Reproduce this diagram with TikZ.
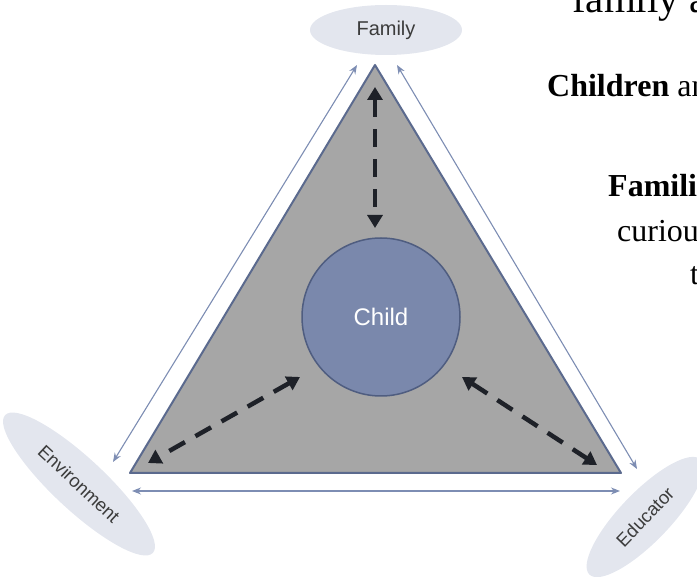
\documentclass[tikz,border=0pt]{standalone}
\usepackage{fontspec}
\setmainfont{Liberation Serif}
\newfontfamily\labelfont{Liberation Sans}
\usetikzlibrary{arrows.meta,shapes.geometric}

\definecolor{trifill}{HTML}{A6A6A6}
\definecolor{triedge}{HTML}{5B6A8E}
\definecolor{childfill}{HTML}{7A88AC}
\definecolor{childedge}{HTML}{4F5D80}
\definecolor{partyfill}{HTML}{E3E6EE}
\definecolor{labeltext}{HTML}{3C3C3C}
\definecolor{linkblue}{HTML}{7D8DB3}
\definecolor{flowblack}{HTML}{1E2128}

\tikzset{
  party/.style={ellipse, fill=partyfill, text=labeltext, inner sep=0pt,
    font=\labelfont\fontsize{18.5}{20}\selectfont},
  link/.style={draw=linkblue, line width=1.1pt,
    {Stealth[length=9pt,width=7pt]}-{Stealth[length=9pt,width=7pt]}},
  flow/.style={draw=flowblack, line width=4.5pt, dash pattern=on 18pt off 12pt,
    {Triangle[length=13pt,width=15pt]}-{Triangle[length=13pt,width=15pt]}},
  slide/.style={anchor=base west, inner sep=0pt, font=\fontsize{32}{38}\selectfont},
}

\begin{document}
\begin{tikzpicture}[x=1pt,y=-1pt]
\clip (0,0) rectangle (697,577);

% triangle
\coordinate (apex) at (375,65);
\coordinate (left) at (130,473);
\coordinate (right) at (621,473);
\draw [fill=trifill, draw=triedge, line width=2pt, line join=round] (apex) -- (left) -- (right) -- cycle;

% child
\node [circle, fill=childfill, draw=childedge, line width=1.5pt, minimum size=158pt, text=white,
  font=\labelfont\fontsize{24}{26}\selectfont] (child) at (381,317) {Child};

% dashed arrows
\coordinate (flowtop) at (375,87);
\coordinate (flowmid) at (375,228);
\coordinate (flowleft) at (148,463);
\coordinate (flowleftc) at (300,377);
\coordinate (flowright) at (597,465);
\coordinate (flowrightc) at (462,377);
\draw [flow] (flowtop) -- (flowmid);
\draw [flow] (flowleftc) -- (flowleft);
\draw [flow] (flowrightc) -- (flowright);

% partners
\node [party, minimum width=152pt, minimum height=50pt, font=\labelfont\fontsize{20}{22}\selectfont] (family) at (386,30) {Family};
\node [party, minimum width=202pt, minimum height=52pt, rotate=-43] (environment) at (79,484) {Environment};
\node [party, minimum width=160pt, minimum height=50pt, rotate=46] (educator) at (645,517) {Educator};

% thin arrows
\coordinate (famleft) at (357,65);
\coordinate (envtop) at (113,462);
\coordinate (famright) at (397,65);
\coordinate (edutop) at (637,469);
\coordinate (envright) at (132,491);
\coordinate (eduleft) at (620,491);
\draw [link] (famleft) -- (envtop);
\draw [link] (famright) -- (edutop);
\draw [link] (envright) -- (eduleft);

% slide text
\node [slide, font=\fontsize{41}{46}\selectfont] (title) at (572,13) {family a};
\node [slide] (children) at (547,97) {\textbf{Children} an};
\node [slide] (families) at (608,197) {\textbf{Famili}};
\node [slide] (curious) at (617,242) {curiou};
\node [slide] (lastline) at (690,285) {t};

\end{tikzpicture}
\end{document}
